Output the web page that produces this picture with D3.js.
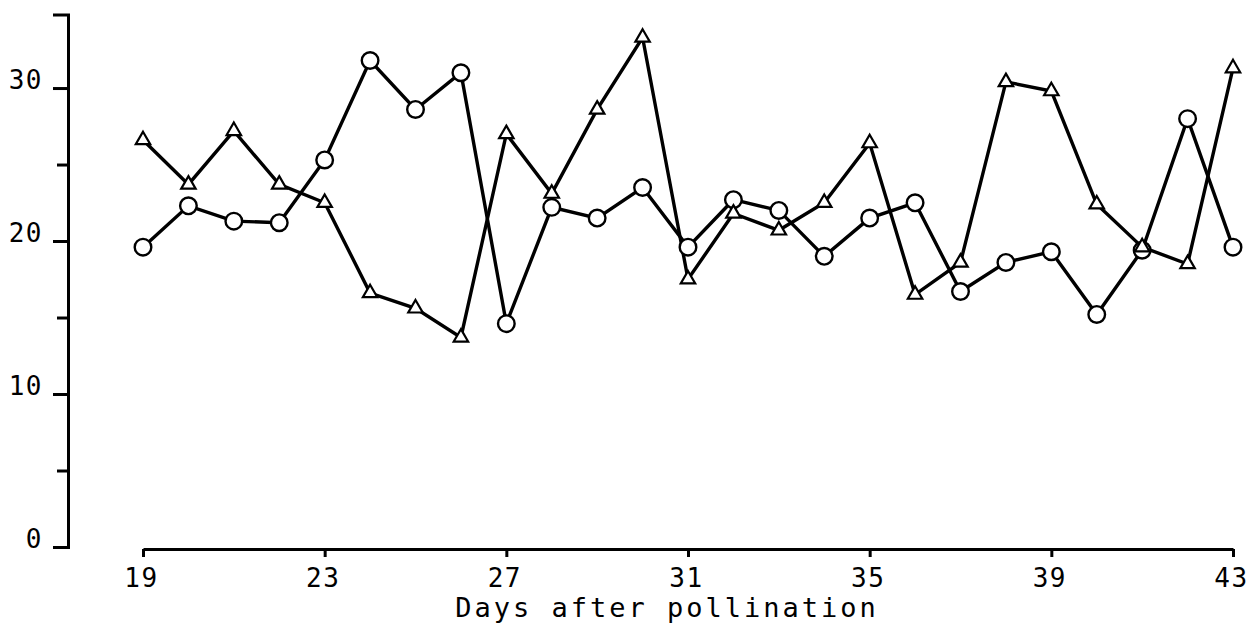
<!DOCTYPE html>
<html>
<head>
<meta charset="utf-8">
<script src="https://cdn.jsdelivr.net/npm/d3@7"></script>
<style>
  body { margin: 0; background: #fff; }
  svg { display: block; }
  text { font-family: "DejaVu Sans Mono", monospace; fill: #000; }
</style>
</head>
<body>
<div id="chart"></div>
<script>
var svgWidth = 1248;
var svgHeight = 626;

// data
var days = [19, 20, 21, 22, 23, 24, 25, 26, 27, 28, 29, 30, 31, 32, 33, 34, 35, 36, 37, 38, 39, 40, 41, 42, 43];
var circleVals = [19.6, 22.3, 21.3, 21.2, 25.3, 31.8, 28.6, 31.0, 14.6, 22.2, 21.5, 23.5, 19.6, 22.7, 22.0, 19.0, 21.5, 22.5, 16.7, 18.6, 19.3, 15.2, 19.4, 28.0, 19.6];
var triangleVals = [26.6, 23.7, 27.2, 23.7, 22.5, 16.6, 15.6, 13.7, 27.0, 23.1, 28.6, 33.3, 17.5, 21.8, 20.7, 22.5, 26.4, 16.5, 18.6, 30.4, 29.8, 22.4, 19.6, 18.5, 31.3];
var xTicks = [19, 23, 27, 31, 35, 39, 43];
var yMajor = [0, 10, 20, 30];
var yMinor = [5, 15, 25];
var xTitle = "Days after pollination";

var svg = d3.select("#chart")
  .append("svg")
  .attr("width", svgWidth)
  .attr("height", svgHeight);

var scaleX = d3.scaleLinear().domain([19, 43]).range([143, 1233]);
var scaleY = d3.scaleLinear().domain([0, 34.8]).range([547, 14.6]);

// y axis (outer ticks make the bracket at the top)
var yAxis = svg.append("g")
  .attr("transform", "translate(68,0)")
  .call(d3.axisLeft(scaleY).tickValues(yMajor).tickSize(15).tickSizeOuter(15).tickPadding(10));
yAxis.selectAll("text").attr("dy", "0.02em");
svg.append("g")
  .attr("transform", "translate(68,0)")
  .call(d3.axisLeft(scaleY).tickValues(yMinor).tickSize(11).tickSizeOuter(0).tickFormat(""))
  .select(".domain").remove();

// x axis
var xAxis = svg.append("g")
  .attr("transform", "translate(0,549)")
  .call(d3.axisBottom(scaleX).tickValues(xTicks).tickSize(8).tickSizeOuter(0).tickPadding(12));
xAxis.selectAll("text").attr("dx", "-2px");

svg.selectAll(".domain, .tick line").attr("stroke", "#000").attr("stroke-width", 3);
svg.selectAll(".tick text")
  .style("font-size", "26px")
  .style("letter-spacing", "1.5px")
  .attr("fill", "#000");

svg.append("text")
  .attr("x", 667)
  .attr("y", 617)
  .attr("text-anchor", "middle")
  .style("font-size", "27px")
  .style("letter-spacing", "3px")
  .text(xTitle);

var line = d3.line()
  .x((d, i) => scaleX(days[i]))
  .y(d => scaleY(d));

svg.append("path")
  .datum(circleVals)
  .attr("d", line)
  .attr("fill", "none")
  .attr("stroke", "#000")
  .attr("stroke-width", 3.4);

svg.append("path")
  .datum(triangleVals)
  .attr("d", line)
  .attr("fill", "none")
  .attr("stroke", "#000")
  .attr("stroke-width", 3.4);

svg.selectAll("circle.pt")
  .data(circleVals)
  .enter()
  .append("circle")
  .attr("class", "pt")
  .attr("cx", (d, i) => scaleX(days[i]))
  .attr("cy", d => scaleY(d))
  .attr("r", 8.3)
  .attr("fill", "#fff")
  .attr("stroke", "#000")
  .attr("stroke-width", 2.4);

var tri = d3.symbol().type(d3.symbolTriangle).size(90);
svg.selectAll("path.tri")
  .data(triangleVals)
  .enter()
  .append("path")
  .attr("class", "tri")
  .attr("d", tri)
  .attr("transform", (d, i) => `translate(${scaleX(days[i])},${scaleY(d)})`)
  .attr("fill", "#fff")
  .attr("stroke", "#000")
  .attr("stroke-width", 2.2);
</script>
</body>
</html>
